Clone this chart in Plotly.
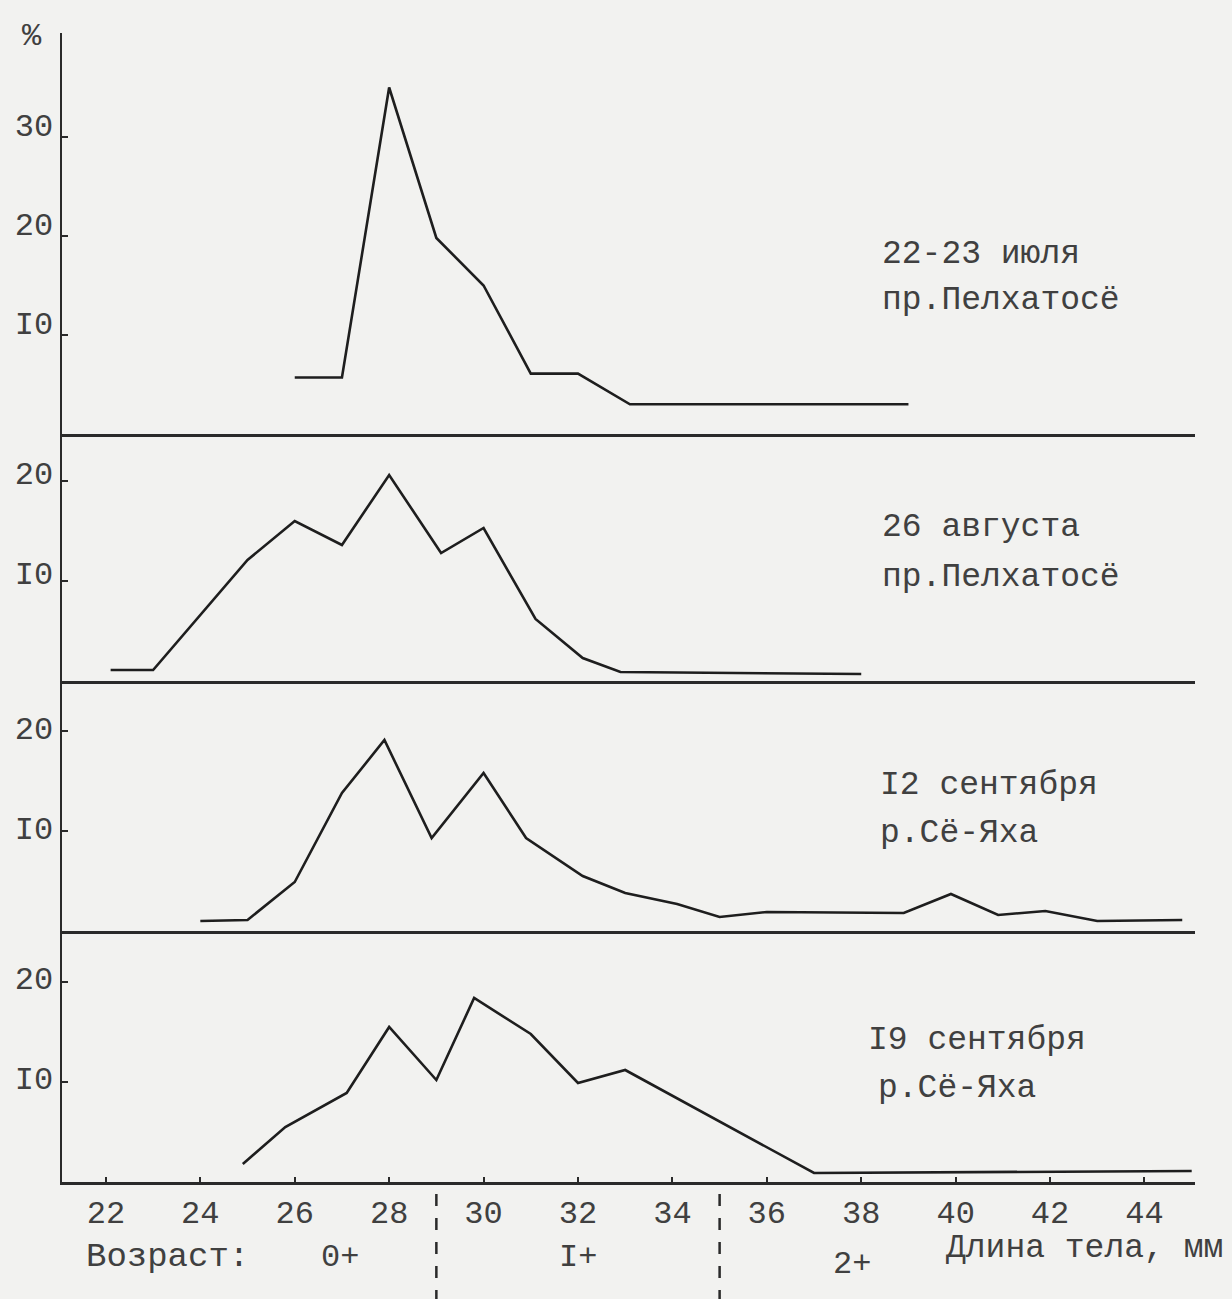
import plotly.graph_objects as go

# ---------------- data (body length, mm ; share, %) ----------------
len_jul = [26, 27, 28, 29, 30, 31, 32, 33.1, 39]
pct_jul = [5.7, 5.7, 35.0, 19.8, 15.0, 6.1, 6.1, 3.0, 3.0]

len_aug = [22.1, 23, 25, 26, 27, 28, 29.1, 30, 31.1, 32.1, 32.9, 38]
pct_aug = [1.1, 1.1, 12.1, 16.0, 13.6, 20.6, 12.8, 15.3, 6.2, 2.3, 0.9, 0.7]

len_sep12 = [24, 25, 26, 27, 27.9, 28.9, 30, 30.9, 32.1, 33, 34.1, 35, 36, 38.9, 39.9, 40.9, 41.9, 43, 44.8]
pct_sep12 = [1.0, 1.1, 4.9, 13.8, 19.1, 9.3, 15.8, 9.3, 5.5, 3.8, 2.7, 1.4, 1.9, 1.8, 3.7, 1.6, 2.0, 1.0, 1.1]

len_sep19 = [24.9, 25.8, 27.1, 28, 29, 29.8, 31, 32, 33, 37, 45]
pct_sep19 = [1.8, 5.5, 8.9, 15.5, 10.2, 18.4, 14.8, 9.9, 11.2, 0.9, 1.1]

panel_labels = [
    ["22-23 июля", "пр.Пелхатосё"],
    ["26 августа", "пр.Пелхатосё"],
    ["I2 сентября", "р.Сё-Яха"],
    ["I9 сентября", "р.Сё-Яха"],
]
x_tickvals = list(range(22, 45, 2))
x_ticktext = [str(v) for v in x_tickvals]
y_tickvals_top = [10, 20, 30]
y_ticktext_top = ["I0", "20", "30"]
y_tickvals = [10, 20]
y_ticktext = ["I0", "20"]
age_bounds = [29, 35]
age_labels = ["0+", "I+", "2+"]
age_label_pos = [26.95, 32.0, 37.8]

# ---------------- layout geometry ----------------
W, H = 1232, 1299
REF_L, REF_R, REF_T, REF_B = 62, 1195, 33, 1182  # plot box in page pixels
ML, MT = REF_L, REF_T
MR, MB = W - REF_R, H - REF_B
PW, PH = W - ML - MR, H - MT - MB
XR = [21.07, 45.07]


def fy(py):
    return (REF_B - py) / PH


def fx(px):
    return (px - REF_L) / PW


panel_px = [(434, REF_T), (681, 434), (931, 681), (REF_B, 931)]
px_per_unit = [9.9, 10.0, 10.0, 10.0]

FONT = "Liberation Mono"
INK = "#1e1e1e"
TXT = "#404040"
BG = "#f2f2f0"

series = [(len_jul, pct_jul), (len_aug, pct_aug), (len_sep12, pct_sep12), (len_sep19, pct_sep19)]

fig = go.Figure()
layout = dict(
    width=W, height=H,
    margin=dict(l=ML, r=MR, t=MT, b=MB, autoexpand=False),
    paper_bgcolor=BG, plot_bgcolor=BG,
    showlegend=False,
    font=dict(family=FONT, size=34, color=TXT),
)

shifts = [-12, -8, -3, -4]
for i, (xs, ys) in enumerate(series):
    n = "" if i == 0 else str(i + 1)
    fig.add_trace(go.Scatter(x=xs, y=ys, mode="lines", xaxis="x" + n, yaxis="y" + n,
                             line=dict(color=INK, width=2.6), hoverinfo="skip"))
    bot, top = panel_px[i]
    yr = (bot - top) / px_per_unit[i]
    last = i == 3
    xa = dict(domain=[0, 1], anchor="y" + n, range=XR, showgrid=False, zeroline=False,
              showline=True, linecolor="#2a2a2a", linewidth=2.5, fixedrange=True,
              automargin=False)
    if last:
        xa.update(tickmode="array", tickvals=x_tickvals, ticktext=x_ticktext,
                  ticks="inside", ticklen=5, tickwidth=2, tickcolor="#2a2a2a",
                  ticklabelstandoff=0,
                  tickfont=dict(family=FONT, size=32, color=TXT),
                  minor=dict(tickmode="array", tickvals=[v + 1 for v in range(21, 45, 2)],
                             ticks="inside", ticklen=5, tickwidth=2, tickcolor="#2a2a2a"))
    else:
        xa.update(showticklabels=False, ticks="")
        xa["matches"] = "x4"
    if i == 0:
        tv, tt = y_tickvals_top + [yr], y_ticktext_top + [""]
    else:
        tv, tt = y_tickvals, y_ticktext
    ya = dict(domain=[fy(bot), fy(top)], anchor="x" + n, range=[0, yr], showgrid=False,
              zeroline=False, showline=True, linecolor="#2a2a2a", linewidth=2.5,
              tickmode="array", tickvals=tv, ticktext=tt, ticks="inside", ticklen=6,
              tickwidth=2, tickcolor="#2a2a2a", ticklabelshift=shifts[i], ticklabelstandoff=0,
              tickfont=dict(family=FONT, size=32, color=TXT), fixedrange=True,
              automargin=False)
    layout["xaxis" + n] = xa
    layout["yaxis" + n] = ya

fig.update_layout(**layout)

ann = []
label_pos = [((880, 255), (880, 300)), ((880, 527), (880, 577)),
             ((878, 785), (878, 833)), ((866, 1040), (876, 1088))]
for (l1, l2), ((ax1, ay1), (ax2, ay2)) in zip(panel_labels, label_pos):
    for t, ax_, ay_ in ((l1, ax1, ay1), (l2, ax2, ay2)):
        ann.append(dict(text=t, xref="paper", yref="paper", x=fx(ax_), y=fy(ay_),
                        xanchor="left", yanchor="middle", showarrow=False,
                        font=dict(family=FONT, size=33, color=TXT)))

ann.append(dict(text="%", xref="paper", yref="paper", x=fx(32), y=fy(36), xanchor="center",
                yanchor="middle", showarrow=False, font=dict(family=FONT, size=32, color=TXT)))
ann.append(dict(text="Возраст:", xref="paper", yref="paper", x=fx(84), y=fy(1257),
                xanchor="left", yanchor="middle", showarrow=False,
                font=dict(family=FONT, size=34, color=TXT)))
age_y = [1257, 1257, 1264]
for lab, xv, yy in zip(age_labels, age_label_pos, age_y):
    ann.append(dict(text=lab, xref="x4", yref="paper", x=xv, y=fy(yy), xanchor="center",
                    yanchor="middle", showarrow=False, font=dict(family=FONT, size=32, color=TXT)))
ann.append(dict(text="Длина тела, мм", xref="paper", yref="paper", x=fx(944), y=fy(1248),
                xanchor="left", yanchor="middle", showarrow=False,
                font=dict(family=FONT, size=33, color=TXT)))
fig.update_layout(annotations=ann)

shapes = []
for b in age_bounds:
    shapes.append(dict(type="line", xref="x4", yref="paper", x0=b, x1=b,
                       y0=fy(1194), y1=fy(1299), line=dict(color="#2a2a2a", width=2.5, dash="12px,12px")))
fig.update_layout(shapes=shapes)

fig.write_html(
    "out.html",
    config={"displayModeBar": False, "staticPlot": True},
    post_script="document.body.style.margin='0';document.body.style.background='%s';" % BG,
)
